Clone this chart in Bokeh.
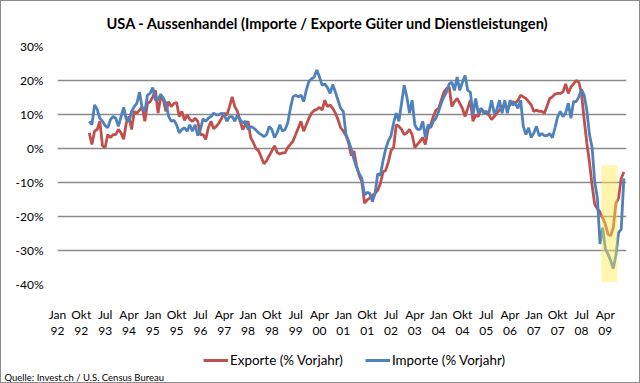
from bokeh.plotting import figure
from bokeh.layouts import column
from bokeh.models import Legend, LegendItem, FixedTicker, Range1d, BoxAnnotation, Title
from bokeh.embed import file_html
from bokeh.resources import INLINE

title_text = "USA - Aussenhandel (Importe / Exporte Güter und Dienstleistungen)"
source_text = "Quelle: Invest.ch / U.S. Census Bureau"
series_names = ["Exporte (% Vorjahr)", "Importe (% Vorjahr)"]

# category axis: months Jan 92 .. Dec 09 (index 0..215), labels every 9 months
n_months = 216
tick_step = 9
tick_labels = ["Jan\n92", "Okt\n92", "Jul\n93", "Apr\n94", "Jan\n95", "Okt\n95",
               "Jul\n96", "Apr\n97", "Jan\n98", "Okt\n98", "Jul\n99", "Apr\n00",
               "Jan\n01", "Okt\n01", "Jul\n02", "Apr\n03", "Jan\n04", "Okt\n04",
               "Jul\n05", "Apr\n06", "Jan\n07", "Okt\n07", "Jul\n08", "Apr\n09"]
y_ticks = [-40, -30, -20, -10, 0, 10, 20, 30]

# data starts Jan 93 (month index 12)
first_month = 12
exports = [
    4.6, 1.2, 5.1, 5.6, 8.0, 0.8, 0.3, 4.1, 3.2, 4.1,
    4.1, 5.6, 4.6, 2.7, 7.5, 9.4, 5.6, 10.9, 10.4, 11.3,
    12.3, 8.0, 13.3, 13.8, 15.2, 17.1, 10.4, 15.2, 14.2, 10.9,
    13.8, 12.3, 13.3, 13.5, 9.4, 10.9, 8.3, 9.9, 8.5, 8.0,
    8.9, 8.0, 4.1, 4.1, 2.7, 6.1, 8.0, 5.8, 6.5, 7.5,
    8.9, 10.4, 9.9, 12.3, 15.2, 12.3, 10.9, 8.0, 5.6, 7.0,
    8.0, 3.2, 1.7, 0.0, -0.7, -2.6, -4.5, -3.6, -2.1, -0.7,
    0.8, -1.2, -1.6, -1.3, -1.3, 0.3, 1.2, 2.2, 4.1, 6.1,
    8.0, 5.1, 7.0, 8.9, 10.4, 11.2, 11.5, 12.1, 11.3, 14.2,
    12.3, 12.8, 11.8, 10.4, 8.5, 6.1, 5.1, 3.8, 1.7, -2.1,
    -0.7, -5.0, -7.9, -9.8, -16.1, -15.1, -14.6, -13.7, -13.2, -12.3,
    -10.3, -6.9, -6.4, -4.0, -0.7, 0.3, 7.0, 6.5, 5.6, 4.1,
    4.6, 5.6, 4.1, 0.3, 1.2, 2.2, 3.2, 1.2, 5.6, 7.0,
    9.4, 11.3, 11.8, 14.2, 16.6, 17.6, 18.1, 12.3, 13.8, 14.7,
    13.3, 11.8, 9.4, 11.8, 14.2, 8.0, 9.9, 9.4, 11.8, 10.9,
    10.4, 9.9, 8.5, 9.4, 10.4, 11.3, 12.3, 12.8, 11.8, 12.8,
    13.8, 13.3, 14.2, 15.7, 15.2, 14.7, 13.8, 12.8, 10.9, 11.3,
    10.9, 10.9, 10.4, 12.5, 14.7, 15.2, 16.0, 16.2, 16.2, 16.6,
    19.0, 16.2, 18.1, 19.0, 20.0, 19.5, 16.2, 8.5, 1.7, -4.0,
    -10.8, -16.5, -17.7, -18.7, -20.4, -22.3, -25.2, -25.7, -23.3, -16.1,
    -14.6, -8.8, -6.9,
]
imports = [
    8.0, 7.0, 12.8, 11.5, 8.9, 8.0, 6.7, 6.1, 8.5, 9.4,
    8.9, 6.5, 9.4, 12.1, 8.5, 8.0, 10.9, 12.3, 13.3, 16.6,
    11.8, 10.9, 15.7, 16.2, 17.9, 14.2, 14.4, 16.0, 14.7, 13.3,
    9.4, 8.0, 8.3, 7.0, 4.6, 5.6, 6.1, 5.1, 7.0, 5.1,
    7.0, 3.8, 5.6, 8.7, 8.0, 8.9, 9.4, 10.4, 9.9, 9.9,
    10.4, 9.9, 8.0, 9.4, 9.4, 8.0, 9.9, 8.5, 7.5, 8.0,
    5.6, 6.5, 6.1, 5.4, 4.6, 4.1, 3.5, 4.1, 6.5, 5.6,
    3.2, 4.6, 7.0, 5.1, 5.6, 7.5, 11.8, 15.2, 15.7, 15.2,
    15.7, 13.8, 17.1, 19.8, 20.5, 21.0, 23.1, 21.0, 18.6, 19.0,
    17.9, 16.2, 18.8, 16.6, 14.2, 11.8, 10.9, 4.1, 2.2, -0.2,
    -3.1, -5.5, -7.4, -8.8, -13.7, -12.9, -13.2, -15.6, -13.2, -7.4,
    -7.9, -3.6, -0.2, 2.2, 3.7, 7.5, 10.4, 8.0, 13.3, 18.6,
    15.2, 10.4, 14.2, 7.0, 5.6, 5.6, 8.0, 3.2, 7.0, 6.1,
    8.0, 8.9, 10.9, 13.3, 15.2, 16.6, 19.0, 19.5, 17.1, 21.0,
    17.1, 19.5, 21.5, 17.1, 16.6, 9.9, 14.7, 10.4, 11.8, 10.4,
    10.9, 10.4, 14.2, 10.4, 11.4, 14.2, 10.4, 14.2, 10.4, 14.2,
    12.8, 13.3, 11.8, 14.2, 6.5, 4.1, 6.1, 3.2, 4.6, 6.5,
    3.7, 4.4, 3.8, 3.8, 4.4, 3.2, 6.1, 9.4, 10.9, 9.4,
    10.4, 13.3, 8.9, 13.8, 13.8, 15.2, 17.3, 15.7, 11.3, 4.1,
    0.3, -9.8, -14.6, -28.1, -23.3, -29.5, -31.0, -32.9, -35.3, -31.4,
    -24.7, -23.8, -8.8,
]

# highlighted crisis window (month index / percent)
hl_left, hl_right, hl_bottom, hl_top = 205.5, 211.6, -39.3, -4.9

FONT = "Lato"
RED = "#C0504D"
BLUE = "#4F81BD"
LW = 2.8

# ---------------- main chart ----------------
p = figure(width=638, height=339, output_backend="svg", toolbar_location=None,
           x_range=Range1d(0, n_months - 1), y_range=Range1d(-40, 30),
           min_border_left=56, min_border_right=13, min_border_top=45,
           min_border_bottom=52)
p.outline_line_color = None
p.background_fill_color = "white"
p.border_fill_color = "white"

x_vals = list(range(first_month, first_month + len(exports)))
p.line(x_vals, exports, line_color=RED, line_width=LW)
p.line(x_vals, imports, line_color=BLUE, line_width=LW)

p.add_layout(BoxAnnotation(left=hl_left, right=hl_right, bottom=hl_bottom, top=hl_top,
                           fill_color="#FFE94D", fill_alpha=0.45, line_color=None,
                           level="overlay"))

p.title.text = title_text
p.title.align = "left"
p.title.offset = 49
p.title.vertical_align = "top"
p.title.text_font = FONT
p.title.text_font_style = "bold"
p.title.text_font_size = "14.6px"
p.title.text_color = "#000000"
p.title.standoff = 25

tick_pos = [i * tick_step for i in range(len(tick_labels))]
p.xaxis.ticker = FixedTicker(ticks=tick_pos)
p.xaxis.major_label_overrides = {tp: lab for tp, lab in zip(tick_pos, tick_labels)}
p.yaxis.ticker = FixedTicker(ticks=y_ticks)
p.yaxis.major_label_overrides = {v: f"{v}%" for v in y_ticks}
for ax in (p.xaxis[0], p.yaxis[0]):
    ax.axis_line_color = None
    ax.major_tick_line_color = None
    ax.minor_tick_line_color = None
    ax.major_label_text_font = FONT
    ax.major_label_text_font_size = "12px"
    ax.major_label_text_color = "#000000"
p.xaxis.major_label_standoff = 16
p.xaxis.major_label_text_line_height = 1.08
p.yaxis.major_label_standoff = 8

p.xgrid.grid_line_color = None
p.ygrid.ticker = FixedTicker(ticks=y_ticks)
p.ygrid.grid_line_color = "#8a8a8a"
p.ygrid.grid_line_width = 1.6

# ---------------- footer: legend + source ----------------
# (its frame is aligned with the chart above)
f = figure(width=638, height=42, output_backend="svg", toolbar_location=None,
           x_range=Range1d(0, 100), y_range=Range1d(0, 100),
           min_border_left=0, min_border_right=0, min_border_top=0, min_border_bottom=0)
f.axis.visible = False
f.grid.visible = False
f.outline_line_color = None
f.border_fill_color = "white"
f.background_fill_color = "white"

# legend keys: renderers kept outside the visible range, only their legend glyphs show
k_exp = f.line(x=[-20, -10], y=[-20, -20], line_color=RED, line_width=3)
k_imp = f.line(x=[-20, -10], y=[-20, -20], line_color=BLUE, line_width=3)
legend = Legend(items=[LegendItem(label=series_names[0], renderers=[k_exp]),
                       LegendItem(label=series_names[1], renderers=[k_imp])],
                orientation="horizontal", location=(146, 1),
                label_text_font=FONT, label_text_font_size="13.4px",
                label_text_color="#000000", glyph_width=25, glyph_height=14,
                label_height=14, label_standoff=2, spacing=22, padding=0, margin=0,
                border_line_color=None, background_fill_alpha=0)
f.add_layout(legend, "center")

src = Title(text=source_text, align="left", offset=-53, standoff=0,
            vertical_align="bottom", text_font=FONT, text_font_size="9.5px",
            text_font_style="normal", text_color="#000000")
f.add_layout(src, "below")

layout = column(p, f, spacing=0, styles={"border": "1px solid #8c8c8c"})
open("out.html", "w").write(file_html(layout, INLINE))
